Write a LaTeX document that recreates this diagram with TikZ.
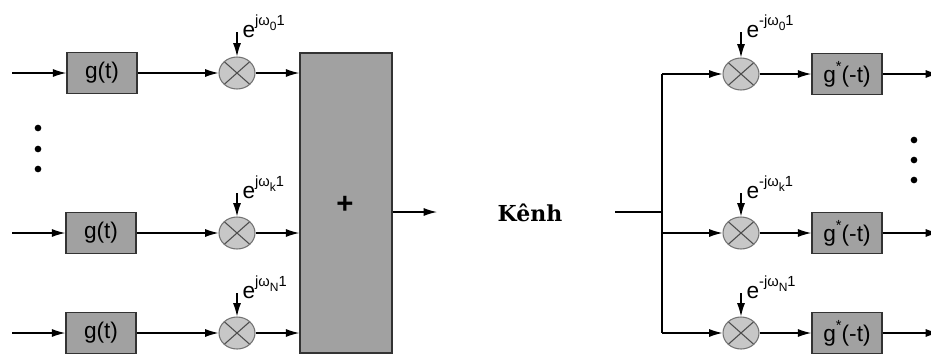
\documentclass[tikz,border=0pt]{standalone}
\usepackage{fontspec}
\setmainfont{Liberation Sans}
\newfontfamily\kenhfont{DejaVu Serif}
\usepackage{tikz}
\usetikzlibrary{
    arrows.meta,
    shapes.geometric,
    calc,
    positioning
}

% exponent label: e^{<sign>j omega_<index> 1}
\newcommand{\cexp}[2]{e\raisebox{1.0ex}{\fontsize{11}{11}\selectfont #1jω\raisebox{-0.75ex}{\fontsize{9}{9}\selectfont #2}1}}

\begin{document}
\begin{tikzpicture}[x=0.75pt, y=-0.75pt,
    >={Latex[length=10pt,width=6pt]},
    line width=0.9pt,
    blk/.style={draw=black!80, line width=1.1pt, fill=black!37, minimum width=52.5pt, minimum height=31pt, inner sep=0pt, font=\fontsize{17}{17}\selectfont},
    mix/.style={ellipse, draw=black!55, line width=0.8pt, fill=black!22, minimum width=27pt, minimum height=24pt, inner sep=0pt,
        path picture={\draw[black!70, line width=0.8pt] (path picture bounding box.north west) -- (path picture bounding box.south east)
            (path picture bounding box.north east) -- (path picture bounding box.south west);}},
    expo/.style={anchor=base west, inner sep=0pt, font=\fontsize{17}{17}\selectfont},
    dot/.style={circle, fill=black, inner sep=0pt, minimum size=5pt}]
                        \useasboundingbox (0,0) rectangle (931,358);

                        % transmitter branches
                        \coordinate (i1) at (12, 73);
                        \coordinate (i2) at (12, 233);
                        \coordinate (i3) at (12, 333);
                        \node[blk] (g1) at (102, 73) {g(t)};
                        \node[blk] (g2) at (101, 233) {g(t)};
                        \node[blk] (g3) at (101, 333) {g(t)};
                        \node[mix] (m1) at (237, 73) {};
                        \node[mix] (m2) at (237, 233) {};
                        \node[mix] (m3) at (237, 333) {};
                        \coordinate (e1) at (237, 32);
                        \coordinate (e2) at (237, 193);
                        \coordinate (e3) at (237, 293);
                        \node[expo] (x1) at (242, 37) {\cexp{}{0}};
                        \node[expo] (x2) at (242, 198) {\cexp{}{k}};
                        \node[expo] (x3) at (242, 298) {\cexp{}{N}};
                        \node[dot] (d1) at (38, 128) {};
                        \node[dot] (d2) at (38, 149) {};
                        \node[dot] (d3) at (38, 169) {};

                        % adder and channel
                        \node[draw=black!80, line width=1.1pt, fill=black!37, minimum width=69pt, minimum height=225pt] (sum) at (346, 203) {};
                        \node[font=\fontsize{22}{22}\selectfont\bfseries] (plus) at (345, 205) {+};
                        \coordinate (out) at (437, 212);
                        \node[font=\kenhfont\bfseries\fontsize{16.5}{17}\selectfont] (ch) at (530, 213) {Kênh};

                        % receiver branches
                        \coordinate (rin) at (615, 212);
                        \coordinate (bj) at (662, 212);
                        \coordinate (b1) at (662, 74);
                        \coordinate (b2) at (662, 233);
                        \coordinate (b3) at (662, 333);
                        \node[mix] (r1) at (741, 74) {};
                        \node[mix] (r2) at (741, 233) {};
                        \node[mix] (r3) at (741, 333) {};
                        \node[blk] (h1) at (847, 74) {g\raisebox{0.9ex}{\fontsize{11}{11}\selectfont *}(-t)};
                        \node[blk] (h2) at (847, 233) {g\raisebox{0.9ex}{\fontsize{11}{11}\selectfont *}(-t)};
                        \node[blk] (h3) at (847, 333) {g\raisebox{0.9ex}{\fontsize{11}{11}\selectfont *}(-t)};
                        \coordinate (f1) at (741, 32);
                        \coordinate (f2) at (741, 193);
                        \coordinate (f3) at (741, 293);
                        \node[expo] (y1) at (746, 37) {\cexp{-}{0}};
                        \node[expo] (y2) at (746, 198) {\cexp{-}{k}};
                        \node[expo] (y3) at (746, 298) {\cexp{-}{N}};
                        \coordinate (o1) at (939, 74);
                        \coordinate (o2) at (939, 233);
                        \coordinate (o3) at (939, 333);
                        \node[dot] (d4) at (914, 140) {};
                        \node[dot] (d5) at (914, 160) {};
                        \node[dot] (d6) at (914, 180) {};

                        \draw
                        (i1) edge[->] (g1)
                        (i2) edge[->] (g2)
                        (i3) edge[->] (g3)
                        (g1) edge[->] (m1)
                        (g2) edge[->] (m2)
                        (g3) edge[->] (m3)
                        (e1) edge[->] (m1)
                        (e2) edge[->] (m2)
                        (e3) edge[->] (m3)
                        (m1) edge[->] (m1 -| sum.west)
                        (m2) edge[->] (m2 -| sum.west)
                        (m3) edge[->] (m3 -| sum.west)
                        (sum.east |- out) edge[->] (out)
                        (rin) edge (bj)
                        (b1) edge (b3)
                        (b1) edge[->] (r1)
                        (b2) edge[->] (r2)
                        (b3) edge[->] (r3)
                        (f1) edge[->] (r1)
                        (f2) edge[->] (r2)
                        (f3) edge[->] (r3)
                        (r1) edge[->] (h1)
                        (r2) edge[->] (h2)
                        (r3) edge[->] (h3)
                        (h1) edge[->] (o1)
                        (h2) edge[->] (o2)
                        (h3) edge[->] (o3);
                    \end{tikzpicture}
\end{document}
